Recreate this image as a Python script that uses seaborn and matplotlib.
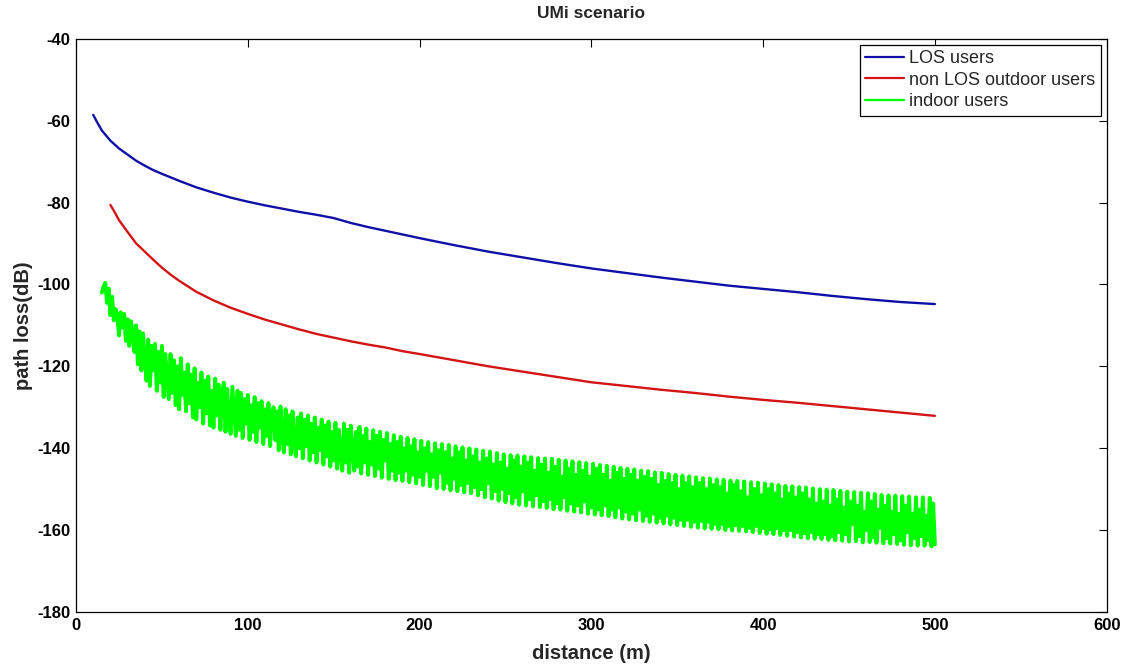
import numpy as np
import pandas as pd
import matplotlib
matplotlib.use("Agg")
import matplotlib.pyplot as plt
import seaborn as sns

# ---------------- data ----------------
title_text = "UMi scenario"
x_label = "distance (m)"
y_label = "path loss(dB)"
series_names = ["LOS users", "non LOS outdoor users", "indoor users"]

los_distance = [10, 12, 15, 20, 25, 30, 35, 40, 45, 50, 60, 70, 80, 90, 100, 110,
                120, 130, 140, 150, 160, 170, 180, 190, 200, 220, 240, 260, 280,
                300, 320, 340, 360, 380, 400, 420, 440, 460, 480, 500]
los_loss = [-58.6, -60.2, -62.4, -64.9, -66.8, -68.3, -69.8, -71.0, -72.1, -73.0,
            -74.7, -76.3, -77.6, -78.8, -79.8, -80.7, -81.5, -82.3, -83.0, -83.8,
            -85.0, -86.0, -86.9, -87.8, -88.7, -90.4, -92.0, -93.4, -94.8, -96.1,
            -97.2, -98.3, -99.3, -100.3, -101.1, -101.9, -102.8, -103.6, -104.3,
            -104.8]

nlos_distance = [20, 22, 25, 30, 35, 40, 45, 50, 55, 60, 70, 80, 90, 100, 110,
                 120, 130, 140, 150, 160, 170, 180, 190, 200, 220, 240, 260, 280,
                 300, 320, 340, 360, 380, 400, 420, 440, 460, 480, 500]
nlos_loss = [-80.6, -82.0, -84.3, -87.2, -90.0, -92.0, -94.0, -95.9, -97.6, -99.1,
             -101.8, -103.9, -105.7, -107.2, -108.6, -109.8, -111.0, -112.1, -113.0,
             -113.9, -114.7, -115.4, -116.3, -117.0, -118.5, -120.0, -121.3, -122.6,
             -123.9, -124.8, -125.7, -126.5, -127.4, -128.2, -128.9, -129.7, -130.5,
             -131.3, -132.1]

# indoor users: one value per metre, from 15 m to 500 m
indoor_first_distance = 15
indoor_loss = [
    -102.0, -100.5, -99.6, -104.5, -101.0, -107.5, -103.0, -108.8, -106.0, -107.5,
    -112.5, -106.8, -110.5, -107.2, -113.8, -108.5, -115.0, -109.0, -112.0, -116.5,
    -110.0, -119.5, -111.5, -121.0, -112.0, -118.0, -123.5, -113.5, -124.8, -115.0,
    -121.0, -114.5, -126.0, -116.5, -124.0, -115.0, -127.5, -117.0, -122.5, -128.0,
    -117.0, -126.5, -118.5, -129.5, -120.0, -130.5, -118.0, -127.0, -121.5, -131.0,
    -119.5, -129.0, -122.0, -132.5, -120.5, -133.0, -124.0, -130.0, -121.5, -134.0,
    -123.5, -131.5, -122.5, -134.5, -126.0, -135.0, -123.0, -132.0, -124.5, -135.5,
    -127.5, -124.0, -136.0, -125.5, -133.0, -136.5, -125.0, -131.0, -137.0, -126.0,
    -135.5, -126.5, -137.5, -128.0, -134.0, -127.0, -138.0, -129.5, -136.0, -127.5,
    -138.5, -129.0, -135.0, -128.5, -139.0, -130.5, -137.0, -129.0, -139.5, -131.5,
    -130.0, -138.0, -131.0, -140.5, -129.8, -136.5, -141.0, -130.5, -139.0, -132.0,
    -141.5, -131.0, -138.5, -142.0, -132.5, -140.0, -131.5, -142.5, -133.0, -139.5,
    -132.0, -143.0, -134.0, -141.0, -132.5, -143.5, -135.0, -140.5, -133.0, -144.0,
    -134.5, -142.0, -133.5, -144.5, -136.0, -143.0, -133.8, -145.0, -135.5, -141.5,
    -145.5, -134.0, -143.5, -135.5, -146.0, -134.5, -141.0, -145.5, -136.0, -144.5,
    -134.8, -146.2, -137.0, -143.5, -135.2, -146.5, -138.5, -144.0, -135.6, -146.8,
    -137.0, -145.0, -136.0, -147.2, -138.0, -143.0, -136.3, -147.5, -139.0, -145.5,
    -136.8, -147.8, -138.5, -146.0, -137.2, -148.0, -140.0, -145.5, -137.5, -148.3,
    -139.5, -146.5, -137.8, -148.6, -141.0, -147.0, -138.2, -149.0, -140.0, -145.5,
    -138.5, -149.3, -141.5, -147.0, -138.8, -149.8, -140.5, -146.0, -139.0, -150.0,
    -141.0, -148.5, -139.2, -150.3, -142.5, -147.5, -139.5, -150.5, -141.0, -149.0,
    -139.8, -150.8, -143.0, -148.5, -140.0, -151.0, -142.0, -149.5, -140.3, -151.5,
    -143.5, -150.0, -140.6, -152.0, -142.5, -148.5, -140.8, -152.3, -144.0, -150.5,
    -141.2, -152.8, -143.5, -150.0, -141.5, -153.2, -145.0, -151.0, -141.7, -153.5,
    -143.0, -152.0, -141.8, -153.8, -144.5, -150.5, -142.0, -154.0, -143.5, -152.5,
    -142.2, -154.2, -145.5, -151.5, -142.4, -154.4, -144.0, -153.0, -142.5, -154.6,
    -146.0, -152.5, -142.6, -154.9, -144.5, -153.5, -142.8, -155.0, -147.0, -152.0,
    -143.0, -155.3, -145.0, -153.5, -143.2, -155.5, -146.5, -154.0, -143.4, -155.7,
    -145.5, -153.0, -143.6, -156.0, -147.0, -154.5, -143.8, -156.2, -145.0, -155.0,
    -144.1, -156.4, -146.5, -154.0, -144.3, -156.6, -148.0, -155.0, -144.5, -156.9,
    -146.0, -154.5, -144.8, -157.2, -147.5, -155.5, -145.0, -157.4, -146.5, -156.0,
    -145.2, -157.6, -148.0, -155.0, -145.5, -157.8, -147.0, -156.5, -145.6, -158.0,
    -147.5, -156.0, -145.9, -158.2, -149.0, -157.0, -146.0, -158.4, -148.0, -156.5,
    -146.3, -158.6, -148.5, -157.0, -146.5, -158.8, -150.0, -157.5, -146.7, -159.0,
    -148.5, -157.5, -146.9, -159.2, -149.5, -158.0, -147.1, -159.4, -148.5, -157.8,
    -147.3, -159.6, -150.0, -158.0, -147.4, -159.7, -149.0, -158.5, -147.6, -159.8,
    -149.5, -158.5, -147.7, -160.0, -151.0, -159.0, -147.9, -160.1, -149.0, -158.8,
    -148.0, -160.2, -150.5, -159.0, -148.1, -160.3, -152.0, -159.5, -148.3, -160.5,
    -150.0, -159.0, -148.4, -160.7, -151.5, -159.5, -148.6, -160.9, -150.0, -159.8,
    -148.8, -161.0, -151.0, -159.5, -149.0, -161.2, -152.5, -160.0, -149.2, -161.4,
    -151.0, -160.0, -149.3, -161.6, -152.0, -160.5, -149.5, -161.8, -151.0, -160.8,
    -149.6, -162.0, -152.5, -160.5, -149.8, -162.1, -153.5, -161.0, -150.0, -162.2,
    -153.0, -161.0, -150.1, -162.4, -154.0, -161.5, -150.2, -162.5, -152.5, -160.5,
    -150.4, -162.6, -154.5, -161.0, -150.6, -162.8, -153.0, -158.5, -150.7, -162.7,
    -154.0, -161.5, -150.9, -163.0, -155.5, -160.0, -151.0, -162.9, -153.0, -161.8,
    -151.2, -163.1, -155.0, -159.5, -151.4, -163.2, -154.0, -162.0, -151.5, -163.3,
    -155.5, -161.0, -151.6, -163.4, -156.0, -162.5, -151.7, -163.6, -154.0, -160.5,
    -151.8, -163.7, -156.0, -162.0, -152.0, -163.8, -155.0, -161.5, -152.0, -163.8,
    -156.5, -162.5, -152.1, -164.0, -153.5, -163.5,
]
indoor_distance = np.arange(indoor_first_distance, indoor_first_distance + len(indoor_loss))

x_ticks = [0, 100, 200, 300, 400, 500, 600]
y_ticks = [-180, -160, -140, -120, -100, -80, -60, -40]

colors = ["#1010A8", "#D41414", "#00FF00"]

# ---------------- style ----------------
sns.set_style("white")
plt.rcParams["font.family"] = ["Liberation Sans", "DejaVu Sans"]
plt.rcParams["axes.unicode_minus"] = False

fig = plt.figure(figsize=(11.25, 6.65), dpi=100)
ax = fig.add_axes([0.0676, 0.0797, 0.9161, 0.8621])

df_los = pd.DataFrame({"distance": los_distance, "loss": los_loss})
df_nlos = pd.DataFrame({"distance": nlos_distance, "loss": nlos_loss})
df_in = pd.DataFrame({"distance": indoor_distance, "loss": indoor_loss})

sns.lineplot(data=df_los, x="distance", y="loss", ax=ax, color=colors[0],
             linewidth=1.7, label=series_names[0], estimator=None)
sns.lineplot(data=df_nlos, x="distance", y="loss", ax=ax, color=colors[1],
             linewidth=1.7, label=series_names[1], estimator=None)
sns.lineplot(data=df_in, x="distance", y="loss", ax=ax, color=colors[2],
             linewidth=2.8, label=series_names[2], estimator=None)

ax.set_xlim(0, 600)
ax.set_ylim(-180, -40)
ax.set_xticks(x_ticks)
ax.set_yticks(y_ticks)
ax.tick_params(direction="in", length=6, width=0.8, top=True, right=True,
               labelsize=12, colors="black", pad=4)
for lab in ax.get_xticklabels() + ax.get_yticklabels():
    lab.set_fontweight("bold")
for sp in ax.spines.values():
    sp.set_color("black")
    sp.set_linewidth(0.9)

ax.set_xlabel(x_label, fontsize=14.5, fontweight="bold", labelpad=8)
ax.set_ylabel(y_label, fontsize=14.5, fontweight="bold", labelpad=3)
ax.set_title(title_text, fontsize=12.5, fontweight="bold", pad=15)

leg = ax.legend(loc="upper right", fontsize=13, frameon=True, fancybox=False,
                framealpha=1, edgecolor="black", borderaxespad=0.33,
                handlelength=2.15, handletextpad=0.3, borderpad=0.3,
                labelspacing=0.25)
leg.get_frame().set_linewidth(0.9)
for line in leg.get_lines():
    line.set_linewidth(1.6)

fig.savefig("out.png", dpi=100)
